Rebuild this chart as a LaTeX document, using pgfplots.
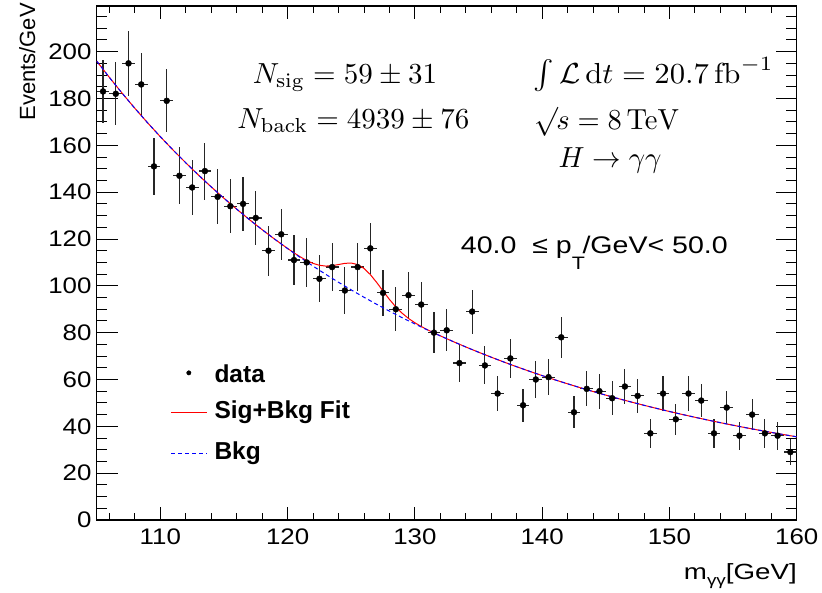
\RequirePackage{fix-cm}
\documentclass[border=0pt]{standalone}
\usepackage[no-math]{fontspec}
\setmainfont{Liberation Sans}
\usepackage{pgfplots}
\pgfplotsset{compat=1.18}
\usepackage{pgfplotstable}

\pgfplotstableread{
x y ex ey
105.5 183 0.5 13.5
106.5 182 0.5 13.5
107.5 195 0.5 14.0
108.5 186 0.5 13.6
109.5 151 0.5 12.3
110.5 179 0.5 13.4
111.5 147 0.5 12.1
112.5 142 0.5 11.9
113.5 149 0.5 12.2
114.5 138 0.5 11.7
115.5 134 0.5 11.6
116.5 135 0.5 11.6
117.5 129 0.5 11.4
118.5 115 0.5 10.7
119.5 122 0.5 11.0
120.5 111 0.5 10.5
121.5 110 0.5 10.5
122.5 103 0.5 10.1
123.5 108 0.5 10.4
124.5 98 0.5 9.9
125.5 108 0.5 10.4
126.5 116 0.5 10.8
127.5 97 0.5 9.8
128.5 90 0.5 9.5
129.5 96 0.5 9.8
130.5 92 0.5 9.6
131.5 80 0.5 8.9
132.5 81 0.5 9.0
133.5 67 0.5 8.2
134.5 89 0.5 9.4
135.5 66 0.5 8.1
136.5 54 0.5 7.3
137.5 69 0.5 8.3
138.5 49 0.5 7.0
139.5 60 0.5 7.7
140.5 61 0.5 7.8
141.5 78 0.5 8.8
142.5 46 0.5 6.8
143.5 56 0.5 7.5
144.5 55 0.5 7.4
145.5 52 0.5 7.2
146.5 57 0.5 7.5
147.5 53 0.5 7.3
148.5 37 0.5 6.1
149.5 54 0.5 7.3
150.5 43 0.5 6.6
151.5 54 0.5 7.3
152.5 51 0.5 7.1
153.5 37 0.5 6.1
154.5 48 0.5 6.9
155.5 36 0.5 6.0
156.5 45 0.5 6.7
157.5 37 0.5 6.1
158.5 36 0.5 6.0
159.5 29 0.5 5.4
}\datatable

\pgfplotstableread{
x y
105 195.97
106 188.98
107 182.25
108 175.80
109 169.62
110 163.68
111 157.99
112 152.52
113 147.27
114 142.23
115 137.39
116 132.74
117 128.27
118 123.98
119 119.86
120 115.90
121 112.08
122 108.42
123 104.89
124 101.51
125 98.25
126 95.12
127 92.10
128 89.19
129 86.40
130 83.71
131 81.11
132 78.62
133 76.21
134 73.89
135 71.66
136 69.52
137 67.44
138 65.44
139 63.52
140 61.66
141 59.87
142 58.15
143 56.48
144 54.87
145 53.32
146 51.82
147 50.38
148 48.98
149 47.64
150 46.34
151 45.08
152 43.87
153 42.70
154 41.56
155 40.47
156 39.41
157 38.39
158 37.40
159 36.44
160 35.52
}\bkgtable

\pgfplotstableread{
x y
105 195.97
106 188.98
107 182.25
108 175.80
109 169.62
110 163.68
111 157.99
112 152.52
113 147.27
114 142.23
115 137.39
116 132.74
117 128.27
118 123.98
119 119.86
120 115.95
120.5 114.09
121 112.35
121.5 110.82
122 109.59
122.5 108.76
123 108.43
123.5 108.60
124 109.09
124.5 109.60
125 109.73
125.5 109.08
126 107.43
126.5 104.79
127 101.43
127.5 97.77
128 94.20
128.5 91.00
129 88.30
129.5 86.07
130 84.22
130.5 82.63
131 81.21
131.5 79.90
132 78.63
133 76.21
134 73.89
135 71.66
136 69.52
137 67.44
138 65.44
139 63.52
140 61.66
141 59.87
142 58.15
143 56.48
144 54.87
145 53.32
146 51.82
147 50.38
148 48.98
149 47.64
150 46.34
151 45.08
152 43.87
153 42.70
154 41.56
155 40.47
156 39.41
157 38.39
158 37.40
159 36.44
160 35.52
}\fittable

\begin{document}
\begin{tikzpicture}
\useasboundingbox (0,0) rectangle (822pt,593pt);
\begin{axis}[
  at={(96.7pt,73pt)}, anchor=south west,
  scale only axis, width=700pt, height=514pt,
  xmin=105, xmax=160, ymin=0, ymax=219.5,
  xtick={110,120,...,160}, ytick={0,20,...,200},
  minor xtick={106,108,...,158}, minor ytick={5,10,...,215},
  tick align=inside,
  axis line style={line width=1.2pt},
  xtick style={line width=0.9pt, black, /pgfplots/major tick length=13pt, /pgfplots/minor tick length=7pt},
  ytick style={line width=0.9pt, black, /pgfplots/major tick length=21pt, /pgfplots/minor tick length=10.5pt},
  ticklabel style={font=\fontsize{22.5}{22.5}\selectfont, inner sep=0pt},
  /pgf/number format/assume math mode=true,
  xticklabel={\scalebox{1.15}[1]{\pgfmathprintnumber{\tick}}},
  yticklabel={\scalebox{1.15}[1]{\pgfmathprintnumber{\tick}}},
  xticklabel style={yshift=-9pt},
  yticklabel style={xshift=-5pt},
]
\addplot[only marks, mark=*, mark size=3pt, black,
  error bars/.cd, x dir=both, x explicit, y dir=both, y explicit,
  error mark=none, error bar style={line width=1.2pt, black!85}]
  table[x=x, y=y, x error=ex, y error=ey] {\datatable};
\addplot[draw=red, line width=1pt] table[x=x, y=y] {\fittable};
\addplot[draw=blue, line width=1pt, dash pattern=on 4pt off 3pt] table[x=x, y=y] {\bkgtable};
% legend samples
\addplot[only marks, mark=*, mark size=2.2pt, black] coordinates {(112.24,62.83)};
\addplot[draw=red, line width=1pt] coordinates {(110.838,45.70) (113.67,45.70)};
\addplot[draw=blue, line width=1pt, dash pattern=on 4pt off 3pt] coordinates {(110.838,28.57) (113.67,28.57)};
\end{axis}

\begin{scope}[every node/.style={inner sep=0pt, anchor=base west, font=\bfseries\fontsize{24.5}{24.5}\selectfont}]
\node at (214.3pt,210.8pt) {data};
\node at (214.3pt,174.2pt) {Sig+Bkg Fit};
\node at (214.3pt,133.5pt) {Bkg};
\end{scope}

\begin{scope}[every node/.style={inner sep=0pt}]
\node[anchor=base] at (345pt,509.7pt) {\scalebox{2.9}{$N_{\mathrm{sig}} = 59 \pm 31$}};
\node[anchor=base] at (353.3pt,464.7pt) {\scalebox{2.9}{$N_{\mathrm{back}} = 4939 \pm 76$}};
\node[anchor=base west] at (533.3pt,509.7pt) {\scalebox{3.07}[2.9]{$\int\mathcal{L}\,\mathrm{d}t = 20.7\,\mathrm{fb}^{-1}$}};
\node[anchor=base west] at (534pt,463.7pt) {\scalebox{2.85}[2.9]{$\surd\mkern-1mu s = 8\,\mathrm{TeV}$}};
\node[anchor=base west] at (558.3pt,425.3pt) {\scalebox{2.85}[2.9]{$H \rightarrow \gamma\gamma$}};
\end{scope}
\node[anchor=base west, inner sep=0pt, font=\fontsize{24}{24}\selectfont] at (460.7pt,339.7pt)
  {\scalebox{1.19}[1]{40.0\ \ ≤ p\raisebox{-16pt}{\fontsize{18}{18}\selectfont T}\kern-2pt/GeV< 50.0}};
\node[rotate=90, anchor=base east, inner sep=0pt, font=\fontsize{22}{22}\selectfont] at (35pt,590pt) {Events/GeV};
\node[anchor=base east, inner sep=0pt, font=\fontsize{22}{22}\selectfont] at (797pt,13pt)
  {\scalebox{1.26}[1]{m\raisebox{-6pt}{\fontsize{15}{15}\selectfont γγ}[GeV]}};
\end{tikzpicture}
\end{document}
